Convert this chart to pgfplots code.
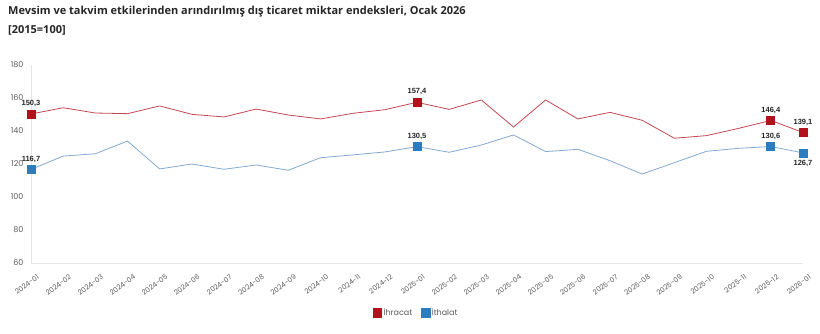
\documentclass[border=0pt]{standalone}
\usepackage{fontspec}
\setmainfont{Liberation Sans}
\newfontfamily\poppins{Poppins}
\newfontfamily\titlefont{Open Sans}
\usepackage{pgfplots}
\usepackage{pgfplotstable}
\pgfplotsset{compat=1.18}
\definecolor{expline}{RGB}{196,72,82}
\definecolor{expmark}{RGB}{178,18,28}
\definecolor{impline}{RGB}{130,170,210}
\definecolor{impmark}{RGB}{44,124,192}
\definecolor{ticktext}{RGB}{90,90,90}

\pgfplotstableread{
x exp imp
0 150.3 116.7
1 154.1 124.8
2 150.9 126.2
3 150.5 133.9
4 155.2 117.0
5 150.1 120.0
6 148.5 116.8
7 153.3 119.4
8 149.7 116.2
9 147.3 123.8
10 150.7 125.5
11 152.9 127.3
12 157.4 130.5
13 153.1 127.1
14 158.8 131.5
15 142.4 137.6
16 158.8 127.5
17 147.3 128.9
18 151.3 122.0
19 146.5 113.9
20 135.6 120.8
21 137.2 127.7
22 141.6 129.5
23 146.4 130.6
24 139.1 126.7
}\data

\pgfplotstableread{
x y
0 150.3
12 157.4
23 146.4
24 139.1
}\explab

\pgfplotstableread{
x y
0 116.7
12 130.5
23 130.6
}\implabA

\pgfplotstableread{
x y
24 126.7
}\implabB

\begin{document}
\begin{tikzpicture}
\path[use as bounding box] (-31pt,-71pt) rectangle (789pt,263pt);
\begin{axis}[
  scale only axis,
  width=772pt, height=198pt,
  xmin=0, xmax=24, ymin=60, ymax=180,
  ytick={60,80,...,180},
  xtick={0,...,24},
  xticklabels={2024-01,2024-02,2024-03,2024-04,2024-05,2024-06,2024-07,2024-08,2024-09,2024-10,2024-11,2024-12,2025-01,2025-02,2025-03,2025-04,2025-05,2025-06,2025-07,2025-08,2025-09,2025-10,2025-11,2025-12,2026-01},
  axis x line*=bottom, axis y line*=left,
  axis line style={draw=black!10, -},
  major tick length=0pt,
  /pgf/number format/assume math mode=true,
  yticklabel style={font=\poppins\fontsize{8}{9}\selectfont, text=ticktext, xshift=-4pt},
  xticklabel style={font=\poppins\fontsize{7}{8}\selectfont, text=ticktext, rotate=36, anchor=north east, inner sep=0pt, xshift=-2pt, yshift=-12pt},
  clip=false,
  legend style={at={(0.499,-0.2525)}, anchor=center, draw=none, fill=none, legend columns=2,
    font=\poppins\fontsize{8}{9}\selectfont, text=ticktext,
    /tikz/every even column/.append style={column sep=7pt}},
  legend cell align=left,
]
\addplot[forget plot, expline, line width=0.8pt, mark=square*, mark size=4pt,
  mark options={fill=expmark, draw=expmark, solid}, mark indices={1,13,24,25}]
  table[x=x, y=exp]{\data};
\addplot[forget plot, impline, line width=0.8pt, mark=square*, mark size=4pt,
  mark options={fill=impmark, draw=impmark, solid}, mark indices={1,13,24,25}]
  table[x=x, y=imp]{\data};
\addplot[forget plot, draw=none, mark=none, point meta=y,
  nodes near coords={\pgfmathprintnumber[fixed,fixed zerofill,precision=1,use comma]{\pgfplotspointmeta}},
  every node near coord/.append style={font=\bfseries\fontsize{7.5}{9}\selectfont, text=black!85, anchor=south, inner sep=0pt, yshift=7pt}]
  table[x=x, y=y]{\explab};
\addplot[forget plot, draw=none, mark=none, point meta=y,
  nodes near coords={\pgfmathprintnumber[fixed,fixed zerofill,precision=1,use comma]{\pgfplotspointmeta}},
  every node near coord/.append style={font=\bfseries\fontsize{7.5}{9}\selectfont, text=black!85, anchor=south, inner sep=0pt, yshift=7pt}]
  table[x=x, y=y]{\implabA};
\addplot[forget plot, draw=none, mark=none, point meta=y,
  nodes near coords={\pgfmathprintnumber[fixed,fixed zerofill,precision=1,use comma]{\pgfplotspointmeta}},
  every node near coord/.append style={font=\bfseries\fontsize{7.5}{9}\selectfont, text=black!85, anchor=north, inner sep=0pt, yshift=-7pt}]
  table[x=x, y=y]{\implabB};
\addlegendimage{only marks, mark=square*, mark size=4.3pt, mark options={fill=expmark, draw=expmark}}
\addlegendimage{only marks, mark=square*, mark size=4.3pt, mark options={fill=impmark, draw=impmark}}
\legend{İhracat, İthalat}
\end{axis}
\node[anchor=base west, font=\titlefont\bfseries\fontsize{11}{12}\selectfont, text=black!85, inner sep=0pt] at (-23pt,248.5pt) {Mevsim ve takvim etkilerinden arındırılmış dış ticaret miktar endeksleri, Ocak 2026};
\node[anchor=base west, font=\titlefont\bfseries\fontsize{11}{12}\selectfont, text=black!85, inner sep=0pt] at (-23pt,229.5pt) {[2015=100]};
\end{tikzpicture}
\end{document}
